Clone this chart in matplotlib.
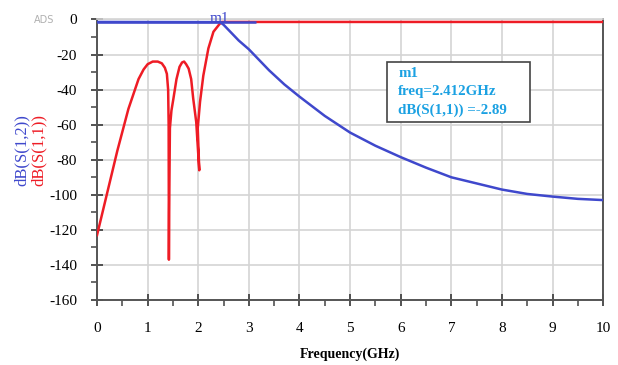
import numpy as np
import matplotlib
matplotlib.use("Agg")
import matplotlib.pyplot as plt
from matplotlib.ticker import MultipleLocator
from matplotlib.patches import Rectangle

plt.rcParams["axes.unicode_minus"] = False

# S(1,1) trace (red)
s11_freq = [0.0, 0.2, 0.4, 0.62, 0.82, 0.92, 1.0, 1.1, 1.2, 1.28, 1.34, 1.38, 1.405, 1.415, 1.42,
            1.425, 1.44, 1.47, 1.51, 1.57, 1.63, 1.68, 1.72, 1.76, 1.81, 1.86, 1.9, 1.96, 2.02,
            1.99, 2.035, 2.1, 2.2, 2.3, 2.412, 2.46, 3.0, 10.0]
s11_db = [-123, -99, -75, -51, -34, -28.5, -25.5, -24, -24, -25, -27.5, -31, -40, -60, -137,
          -110, -62, -52, -45, -34, -27, -24.5, -24, -25.5, -28, -34, -45, -58.5, -86,
          -62, -47, -32, -16.5, -7, -2.89, -1.4, -1.4, -1.4]

# S(1,2) trace (blue)
s12_freq = [0.0, 2.43, 2.5, 2.6, 2.7, 2.8, 2.9, 3.0, 3.2, 3.4, 3.7, 4.0, 4.5, 5.0, 5.5, 6.0,
            6.5, 7.0, 7.5, 8.0, 8.5, 9.0, 9.5, 10.0]
s12_db = [-1.4, -1.5, -3, -6, -9, -12, -14.5, -17, -23, -29, -37, -44, -55, -64.5, -72, -78.5,
          -84.5, -90, -93.5, -97, -99.5, -101, -102.3, -103]

# top flat blue segment drawn over the red
s12_top_freq = [0.0, 3.15]
s12_top_db = [-1.4, -1.4]

marker_freq = 2.412
marker_db = -2.89

x_ticks = list(range(0, 11))
y_ticks = list(range(-160, 1, 20))

RED = "#ee1c25"
BLUE = "#3f48cc"
serif = ["Liberation Serif", "DejaVu Serif"]

fig = plt.figure(figsize=(6.18, 3.65), dpi=100)
ax = fig.add_axes([0.157, 0.178, 0.819, 0.7686])

ax.plot(s11_freq, s11_db, color=RED, lw=1.8, solid_joinstyle="round", zorder=3)
ax.plot(s12_freq, s12_db, color=BLUE, lw=1.8, solid_joinstyle="round", zorder=4)
ax.plot(s12_top_freq, s12_top_db, color=BLUE, lw=1.8, zorder=4, solid_capstyle="butt")

ax.set_xlim(0, 10)
ax.set_ylim(-160, 0)
ax.set_xticks(x_ticks)
ax.set_yticks(y_ticks)
ax.xaxis.set_minor_locator(MultipleLocator(0.5))
ax.yaxis.set_minor_locator(MultipleLocator(10))
ax.grid(True, which="major", color="#d4d4d4", lw=1.2, zorder=0)

for s in ["left", "bottom", "right"]:
    ax.spines[s].set_color("#555555")
    ax.spines[s].set_linewidth(1.4)
ax.spines["top"].set_color("#d4d4d4")
ax.spines["top"].set_linewidth(1.2)

ax.tick_params(axis="both", which="major", direction="inout", length=9, width=1.3,
               color="#444444", labelsize=11)
ax.tick_params(axis="both", which="minor", direction="out", length=4, width=1.1, color="#444444")
ax.tick_params(axis="y", which="both", right=False)
ax.tick_params(axis="y", which="major", pad=10)
ax.tick_params(axis="x", which="major", pad=11)
for lab in ax.get_xticklabels() + ax.get_yticklabels():
    lab.set_family(serif)

ax.set_xlabel("Frequency(GHz)", family=serif, fontsize=10, fontweight="bold", labelpad=9)

fig.text(0.036, 0.59, "dB(S(1,2))", rotation=90, color=BLUE, family=serif, fontsize=12,
         ha="center", va="center")
fig.text(0.062, 0.59, "dB(S(1,1))", rotation=90, color=RED, family=serif, fontsize=12,
         ha="center", va="center")
fig.text(0.072, 0.945, "ADS", color="#b0b0b0", fontsize=7, ha="center", va="center")

ax.text(marker_freq, -1.2, "m1", color=BLUE, family=serif, fontsize=11, ha="center",
        va="baseline", clip_on=False, zorder=5)

ax.add_patch(Rectangle((0.573, 0.635), 0.283, 0.2135, transform=ax.transAxes,
                       fc="white", ec="#444444", lw=1.2, zorder=6))
ax.text(0.595, 0.83,
        f"m1\nfreq={marker_freq}GHz\ndB(S(1,1)) ={marker_db}",
        transform=ax.transAxes, color="#1ba1e2", family=serif, fontsize=10.8, fontweight="bold",
        ha="left", va="top", linespacing=1.5, zorder=7)

fig.savefig("out.png", dpi=100)
